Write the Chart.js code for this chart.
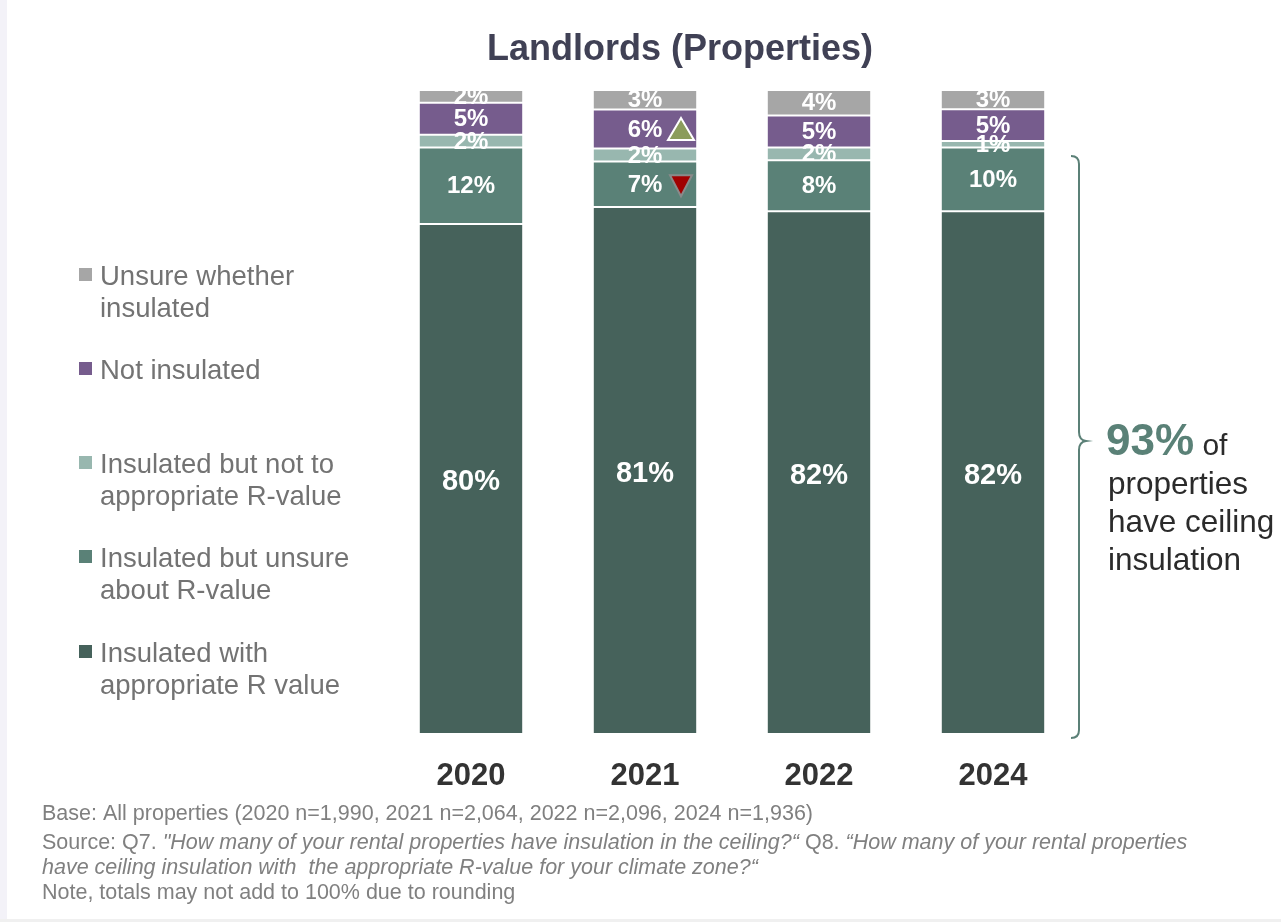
<!DOCTYPE html>
<html>
<head>
<meta charset="utf-8">
<script src="https://cdn.jsdelivr.net/npm/chart.js@4.4.1/dist/chart.umd.min.js"></script>
<style>
    html, body { margin: 0; padding: 0; background: #fff; }
    #chartWrap { position: relative; width: 1281px; height: 922px; }
</style>
</head>
<body>
<div id="chartWrap"><canvas id="insulationChart" width="1281" height="922"></canvas></div>
<script>
// Years and reported shares (%), bottom segment first
const years = ['2020', '2021', '2022', '2024'];
const withAppropriateR = [80, 81, 82, 82];
const unsureAboutR = [12, 7, 8, 10];
const notToAppropriateR = [2, 2, 2, 1];
const notInsulated = [5, 6, 5, 5];
const unsureWhether = [2, 3, 4, 3];

// Significance markers: year index, series index, direction
const sigYear = [1, 1];
const sigSeries = [3, 1];
const sigDir = ['up', 'down'];

const seriesNames = [
    ['Insulated with', 'appropriate R value'],
    ['Insulated but unsure', 'about R-value'],
    ['Insulated but not to', 'appropriate R-value'],
    ['Not insulated'],
    ['Unsure whether', 'insulated']
];
const seriesColors = ['#46625b', '#5a8177', '#98b7af', '#765c8d', '#a6a6a6'];

const FONT = "'Liberation Sans', Arial, sans-serif";
const allSeries = [withAppropriateR, unsureAboutR, notToAppropriateR, notInsulated, unsureWhether];

// Bars are drawn as share of each year's total (so every bar fills 100%)
const totals = years.map((y, i) => allSeries.reduce((s, arr) => s + arr[i], 0));
const datasets = allSeries.map((arr, k) => ({
    label: seriesNames[k].join(' '),
    data: arr.map((v, i) => v / totals[i] * 100),
    raw: arr,
    backgroundColor: seriesColors[k],
    borderColor: 'rgba(255,255,255,0.3)',
    borderWidth: 1,
    borderSkipped: false,
    barPercentage: 0.6,
    categoryPercentage: 1
}));

// Page furniture: background, title, legend, brace, footnotes
const decorPlugin = {
    id: 'decor',
    beforeDraw(chart) {
        const c = chart.ctx;
        c.save();
        c.fillStyle = '#fff';
        c.fillRect(0, 0, chart.width, chart.height);
        c.fillStyle = '#f3f2f8';
        c.fillRect(0, 0, 7, chart.height);
        c.fillStyle = '#f0f0f0';
        c.fillRect(0, chart.height - 3, chart.width, 3);

        // Title
        c.fillStyle = '#404155';
        c.font = `bold 36px ${FONT}`;
        c.textAlign = 'center';
        c.textBaseline = 'alphabetic';
        c.fillText('Landlords (Properties)', 680, 60);

        // Legend (top series first)
        const legendBase = [285, 379, 473, 567, 662];
        c.textAlign = 'left';
        c.font = `27.5px ${FONT}`;
        for (let k = 0; k < 5; k++) {
            const s = 4 - k;
            const b = legendBase[k];
            c.fillStyle = seriesColors[s];
            c.fillRect(79, b - 17, 13, 13);
            c.fillStyle = '#737373';
            seriesNames[s].forEach((line, j) => c.fillText(line, 100, b + j * 32));
        }

        // Footnotes
        c.fillStyle = '#808080';
        const fs = 21.5;
        const reg = `${fs}px ${FONT}`;
        const ita = `italic ${fs}px ${FONT}`;
        const runs = [
            [[reg, 'Base: All properties (2020 n=1,990, 2021 n=2,064, 2022 n=2,096, 2024 n=1,936)']],
            [[reg, 'Source: Q7. '], [ita, '"How many of your rental properties have insulation in the ceiling?\u201c'],
             [reg, ' Q8. '], [ita, '\u201cHow many of your rental properties']],
            [[ita, 'have ceiling insulation with  the appropriate R-value for your climate zone?\u201c']],
            [[reg, 'Note, totals may not add to 100% due to rounding']]
        ];
        const footBase = [820, 849, 874, 899];
        runs.forEach((line, i) => {
            let x = 42;
            line.forEach(([f, t]) => {
                c.font = f;
                c.fillText(t, x, footBase[i]);
                x += c.measureText(t).width;
            });
        });
        c.restore();
    },
    afterDraw(chart) {
        const c = chart.ctx;
        c.save();
        // Brace on the right of the bars
        c.strokeStyle = '#5b8077';
        c.lineWidth = 2;
        c.beginPath();
        c.moveTo(1071, 156);
        c.quadraticCurveTo(1079, 156, 1079, 164);
        c.lineTo(1079, 432);
        c.quadraticCurveTo(1079, 440, 1086, 441);
        c.quadraticCurveTo(1079, 442, 1079, 450);
        c.lineTo(1079, 730);
        c.quadraticCurveTo(1079, 738, 1071, 738);
        c.stroke();

        // Callout text
        c.textAlign = 'left';
        c.textBaseline = 'alphabetic';
        c.fillStyle = '#5a8177';
        c.font = `bold 44px ${FONT}`;
        c.fillText('93%', 1106, 455);
        const w = c.measureText('93%').width;
        c.fillStyle = '#2b2b2b';
        c.font = `30px ${FONT}`;
        c.fillText(' of', 1106 + w, 455);
        c.font = `31.5px ${FONT}`;
        ['properties', 'have ceiling', 'insulation'].forEach((t, i) => c.fillText(t, 1108, 494 + i * 38));
        c.restore();
    }
};

// Value labels inside segments and significance triangles
const valueLabelPlugin = {
    id: 'valueLabels',
    afterDatasetsDraw(chart) {
        const c = chart.ctx;
        c.save();
        c.fillStyle = '#fff';
        c.textAlign = 'center';
        c.textBaseline = 'middle';
        chart.data.datasets.forEach((ds, k) => {
            const meta = chart.getDatasetMeta(k);
            meta.data.forEach((bar, i) => {
                c.font = k === 0 ? `bold 29px ${FONT}` : `bold 24px ${FONT}`;
                const y = (bar.y + bar.base) / 2;
                c.fillText(ds.raw[i] + '%', bar.x, y + (k === 0 ? 3 : 1));
            });
        });

        sigYear.forEach((yi, n) => {
            const bar = chart.getDatasetMeta(sigSeries[n]).data[yi];
            const cx = bar.x + 36;
            const cy = (bar.y + bar.base) / 2 + 1;
            c.beginPath();
            if (sigDir[n] === 'up') {
                c.moveTo(cx, cy - 12);
                c.lineTo(cx + 13, cy + 10);
                c.lineTo(cx - 13, cy + 10);
                c.closePath();
                c.fillStyle = '#8b9c5c';
                c.strokeStyle = '#ffffff';
            } else {
                c.moveTo(cx - 11, cy - 10);
                c.lineTo(cx + 11, cy - 10);
                c.lineTo(cx, cy + 11);
                c.closePath();
                c.fillStyle = '#a00000';
                c.strokeStyle = '#8a8a8a';
            }
            c.lineWidth = 2;
            c.fill();
            c.stroke();
        });
        c.restore();
    }
};

new Chart(document.getElementById('insulationChart'), {
    type: 'bar',
    data: { labels: years, datasets: datasets },
    options: {
        responsive: false,
        animation: false,
        devicePixelRatio: 1,
        layout: { padding: { left: 384, right: 201, top: 90, bottom: 128 } },
        plugins: {
            legend: { display: false },
            title: { display: false },
            tooltip: { enabled: false }
        },
        scales: {
            x: {
                stacked: true,
                grid: { display: false, drawTicks: false },
                border: { display: false },
                ticks: {
                    color: '#333333',
                    padding: 24,
                    font: { family: FONT, size: 31, weight: 'bold' }
                },
                afterFit: axis => { axis.height = 60; }
            },
            y: {
                stacked: true,
                display: false,
                min: 0,
                max: 100
            }
        }
    },
    plugins: [decorPlugin, valueLabelPlugin]
});
</script>
</body>
</html>
